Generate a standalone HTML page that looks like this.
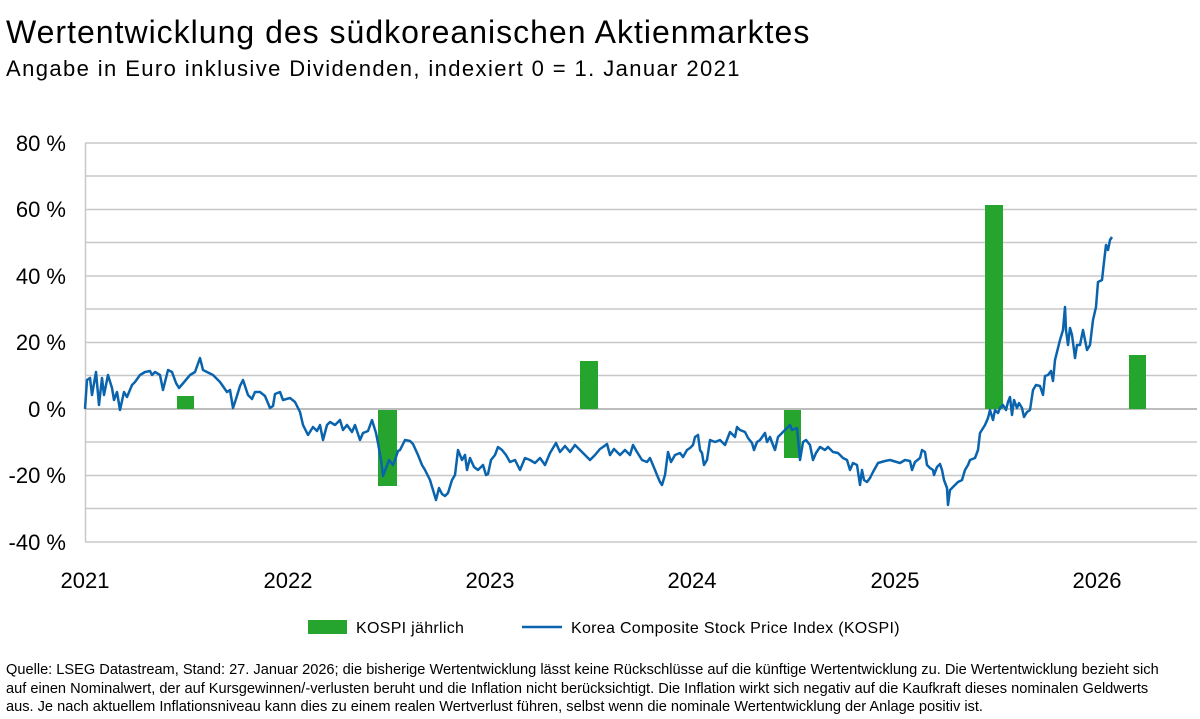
<!DOCTYPE html>
<html><head><meta charset="utf-8"><style>
body{margin:0;background:#fff;width:1200px;height:719px;overflow:hidden;font-family:"Liberation Sans",sans-serif;color:#000}
.t{position:absolute;left:6px;top:14px;font-size:32px;letter-spacing:1px;white-space:nowrap}
.s{position:absolute;left:6px;top:56px;font-size:22px;letter-spacing:1.4px;white-space:nowrap}
.f{position:absolute;left:6px;top:661px;font-size:14.6px;line-height:18.5px;width:1172px}
</style></head><body>
<div class="t">Wertentwicklung des südkoreanischen Aktienmarktes</div>
<div class="s">Angabe in Euro inklusive Dividenden, indexiert 0 = 1. Januar 2021</div>
<svg width="1200" height="719" style="position:absolute;left:0;top:0" font-family="Liberation Sans, sans-serif">
<g stroke="#c8c8c8" stroke-width="1.5">
<line x1="85" x2="1197" y1="143" y2="143"/><line x1="85" x2="1197" y1="176" y2="176"/><line x1="85" x2="1197" y1="209.5" y2="209.5"/><line x1="85" x2="1197" y1="242.5" y2="242.5"/><line x1="85" x2="1197" y1="276" y2="276"/><line x1="85" x2="1197" y1="309" y2="309"/><line x1="85" x2="1197" y1="342.5" y2="342.5"/><line x1="85" x2="1197" y1="375.5" y2="375.5"/><line x1="85" x2="1197" y1="442" y2="442"/><line x1="85" x2="1197" y1="475.5" y2="475.5"/><line x1="85" x2="1197" y1="508.5" y2="508.5"/><line x1="85" x2="1197" y1="542" y2="542"/>
<line x1="85.5" x2="85.5" y1="143" y2="542"/>
</g>
<line x1="85" x2="1197" y1="409" y2="409" stroke="#bdbdbd" stroke-width="2"/>
<g fill="#26a52e">
<rect x="177" y="396" width="17" height="13"/><rect x="378" y="410" width="19" height="76"/><rect x="580" y="361" width="18" height="48"/><rect x="784" y="410" width="17" height="48"/><rect x="985" y="205" width="18" height="204"/><rect x="1129" y="355" width="17" height="54"/>
</g>
<polyline fill="none" stroke="#0a64ad" stroke-width="2.5" stroke-linejoin="round" points="85,409 87,380 90,378 92,395 96,372 99,405 102,378 104,395 108,375 112,388 114,400 117,392 120,410 124,392 127,397 132,385 135,382 140,375 145,372 150,371 152,375 155,372 160,375 163,390 168,370 172,372 176,383 179,388 185,381 190,375 195,372 200,358 203,370 207,372 213,375 220,382 227,392 230,390 233,408 236,399 240,386 243,380 248,395 252,399 255,392 260,392 265,396 270,408 273,406 275,394 280,392 283,400 290,398 295,402 300,412 303,425 308,435 313,427 317,431 320,425 323,440 327,425 330,422 335,425 340,420 343,430 347,425 352,432 355,425 360,440 363,433 368,431 372,420 376,433 378,443 381,460 383,476 386,468 389,460 393,465 395,460 398,451 400,450 405,440 410,441 413,444 418,455 422,465 425,470 430,480 433,490 436,500 439,488 442,494 445,496 448,493 452,480 455,475 458,450 462,460 465,455 467,470 470,458 474,467 478,470 483,465 486,475 488,474 491,460 495,455 498,447 502,450 506,455 510,462 515,460 520,470 525,458 530,460 535,463 540,458 545,465 550,453 556,443 560,452 565,446 570,452 575,445 580,450 585,455 590,460 595,455 600,449 603,447 607,444 610,455 614,449 620,455 625,450 630,455 633,445 637,452 642,460 647,462 650,458 655,470 657,475 660,482 662,485 665,475 668,452 671,462 675,455 680,453 683,457 687,450 690,448 693,445 695,437 698,435 700,450 702,453 704,465 707,460 710,440 715,442 720,440 725,445 730,432 735,437 737,427 740,430 745,432 748,438 752,443 754,450 757,442 760,440 765,433 767,442 770,437 773,445 775,450 778,437 785,430 790,425 792,430 797,428 800,460 803,442 806,440 810,445 813,460 816,453 820,447 825,450 828,447 833,452 838,453 843,458 847,460 850,470 853,463 857,465 860,485 862,470 864,480 867,482 870,478 873,472 878,463 885,461 890,460 900,463 905,460 910,461 912,470 915,462 920,458 922,450 925,452 927,465 930,468 933,470 934,475 937,467 940,464 942,470 944,480 947,488 948,505 950,490 955,485 958,482 962,480 965,470 968,465 970,460 975,458 978,450 980,433 985,425 988,418 990,410 993,420 995,410 998,413 1000,408 1003,405 1006,410 1008,402 1010,397 1012,415 1014,400 1017,408 1019,403 1022,408 1024,417 1027,412 1030,410 1033,390 1036,385 1040,386 1043,395 1045,376 1048,375 1051,371 1053,381 1055,360 1057,352 1060,340 1063,330 1065,307 1066,330 1068,345 1070,328 1072,335 1074,350 1075,358 1077,345 1080,345 1083,330 1085,340 1087,350 1090,345 1093,320 1096,307 1098,282 1102,280 1104,262 1106,245 1108,250 1110,240 1112,237"/>
<g font-size="22" text-anchor="end">
<text x="66" y="151">80 %</text><text x="66" y="217">60 %</text><text x="66" y="284">40 %</text><text x="66" y="350">20 %</text><text x="66" y="417">0 %</text><text x="66" y="483">-20 %</text><text x="66" y="550">-40 %</text>
</g>
<g font-size="22" text-anchor="middle">
<text x="85" y="588">2021</text><text x="288" y="588">2022</text><text x="490" y="588">2023</text><text x="692" y="588">2024</text><text x="895" y="588">2025</text><text x="1097" y="588">2026</text>
</g>
<rect x="308" y="620" width="39" height="14" fill="#26a52e"/>
<text x="356" y="633" font-size="16" letter-spacing="0.3">KOSPI jährlich</text>
<line x1="522" x2="562" y1="627" y2="627" stroke="#0a64ad" stroke-width="2.5"/>
<text x="571" y="633" font-size="16" letter-spacing="0.3">Korea Composite Stock Price Index (KOSPI)</text>
</svg>
<div class="f">Quelle: LSEG Datastream, Stand: 27. Januar 2026; die bisherige Wertentwicklung lässt keine Rückschlüsse auf die künftige Wertentwicklung zu. Die Wertentwicklung bezieht sich auf einen Nominalwert, der auf Kursgewinnen/-verlusten beruht und die Inflation nicht berücksichtigt. Die Inflation wirkt sich negativ auf die Kaufkraft dieses nominalen Geldwerts aus. Je nach aktuellem Inflationsniveau kann dies zu einem realen Wertverlust führen, selbst wenn die nominale Wertentwicklung der Anlage positiv ist.</div>
</body></html>
